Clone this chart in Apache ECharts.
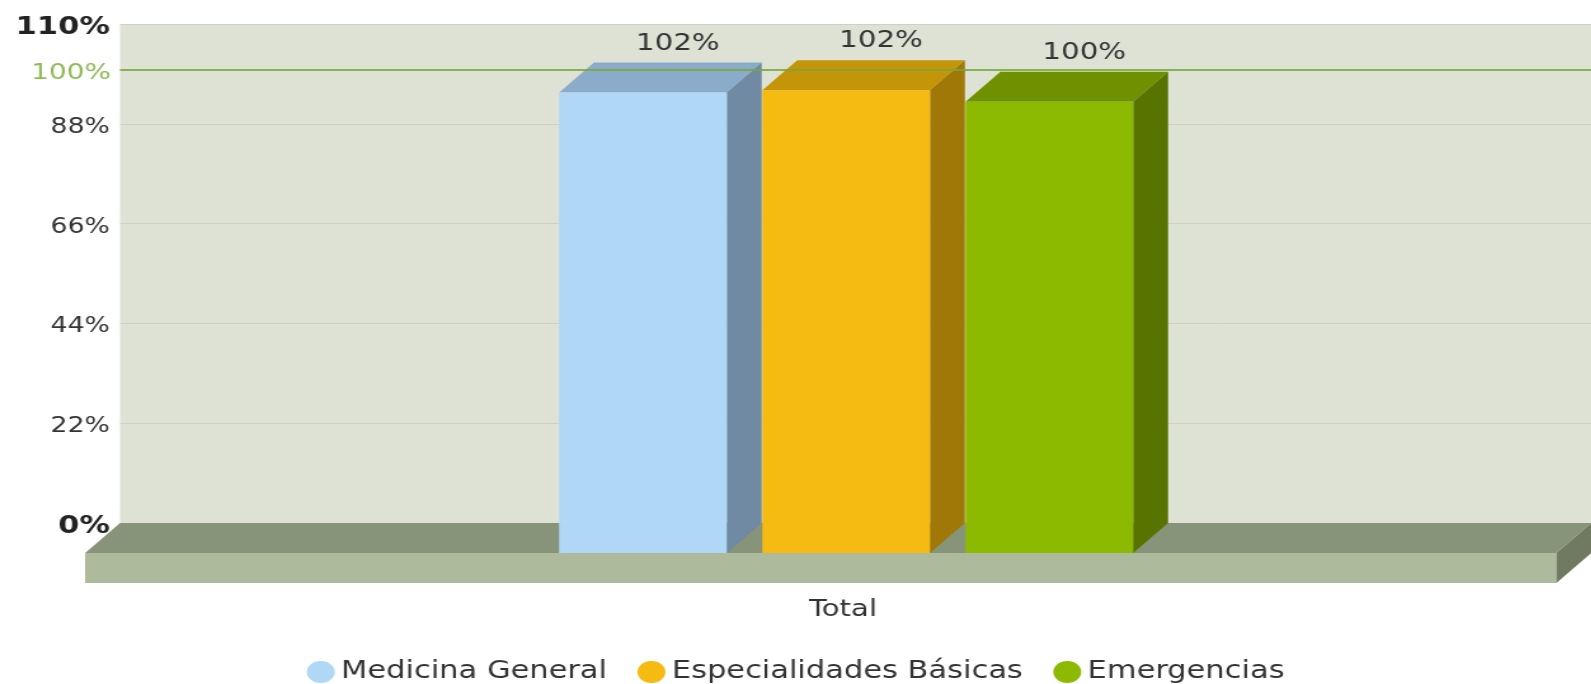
<!DOCTYPE html>
<html>
<head>
<meta charset="utf-8">
<title>Total</title>
<script src="https://cdn.jsdelivr.net/npm/echarts@6/dist/echarts.min.js"></script>
<style>
    html, body { margin: 0; padding: 0; background: #fff; overflow: hidden; }
    /* the reference is stretched horizontally, so the chart is drawn narrow and scaled */
    #main { width: 1253px; height: 684px; transform: scaleX(1.27); transform-origin: 0 0; }
</style>
</head>
<body>
<div id="main"></div>
<script>
// datos del grafico
var categories = ['Total'];
var seriesNames = ['Medicina General', 'Especialidades Básicas', 'Emergencias'];
var medicinaGeneral = [101.5];
var especialidadesBasicas = [102.0];
var emergencias = [99.5];
var trendValue = 100;   // linea de meta
var yMin = 0, yMax = 110, yStep = 22;

var FONT = 'DejaVu Sans';
var DX = 27.5, DY = 30;          // profundidad 3D
var BW = 132, PITCH = 160, SHIFT = 20;
var FLOOR_H = 30;

var shades = [
    { front: '#b0d7f5', top: '#8aabc9', side: '#6f8aa2' },
    { front: '#f5bb11', top: '#c59509', side: '#a07808' },
    { front: '#8cba00', top: '#6f9100', side: '#587400' }
];

function barRenderer(idx) {
    var shade = shades[idx];
    return function (params, api) {
        var cat = api.value(0), v = api.value(1);
        var top = api.coord([cat, v]);
        var base = api.coord([cat, 0]);
        var fc = top[0] - DX + SHIFT + (idx - 1) * PITCH;
        var x0 = fc - BW / 2, x1 = fc + BW / 2;
        var yT = top[1] + DY, yB = base[1] + DY;
        return {
            type: 'group',
            children: [
                { type: 'polygon', shape: { points: [[x0, yT], [x1, yT], [x1 + DX, yT - DY], [x0 + DX, yT - DY]] }, style: { fill: shade.top } },
                { type: 'polygon', shape: { points: [[x1, yT], [x1 + DX, yT - DY], [x1 + DX, yB - DY], [x1, yB]] }, style: { fill: shade.side } },
                { type: 'rect', shape: { x: x0, y: yT, width: BW, height: yB - yT }, style: { fill: shade.front } },
                { type: 'text', x: fc + DX, y: yT - DY - 19, style: { text: Math.round(v) + '%', fill: '#333', fontSize: 23, fontFamily: FONT, align: 'center', verticalAlign: 'middle' } }
            ]
        };
    };
}

// piso 3D debajo de las barras
function floorRenderer(params, api) {
    var cs = params.coordSys;
    var xl = cs.x, xr = cs.x + cs.width, yb = cs.y + cs.height;
    return {
        type: 'group',
        children: [
            { type: 'polygon', shape: { points: [[xl - DX, yb + DY], [xr - DX, yb + DY], [xr, yb], [xl, yb]] }, style: { fill: '#88947a' } },
            { type: 'rect', shape: { x: xl - DX, y: yb + DY, width: cs.width, height: FLOOR_H }, style: { fill: '#adba9b' } },
            { type: 'polygon', shape: { points: [[xr - DX, yb + DY], [xr, yb], [xr, yb + FLOOR_H], [xr - DX, yb + DY + FLOOR_H]] }, style: { fill: '#6f7a61' } }
        ]
    };
}

function toData(arr) {
    return arr.map(function (v, i) { return [i, v]; });
}

var myChart = echarts.init(document.getElementById('main'));
var seriesValues = [medicinaGeneral, especialidadesBasicas, emergencias];

var series = [{
    name: 'piso',
    type: 'custom',
    z: 1,
    data: [[0, 0]],
    renderItem: floorRenderer,
    silent: true,
    markLine: {
        silent: true,
        symbol: 'none',
        data: [{ yAxis: trendValue }],
        lineStyle: { color: '#77a73a', width: 2, type: 'solid', opacity: 0.85 },
        label: { position: 'start', distance: 7, formatter: trendValue + '%', color: '#7dae38', fontSize: 22, fontFamily: FONT, offset: [0, 4] }
    }
}];
seriesValues.forEach(function (vals, i) {
    series.push({
        name: seriesNames[i],
        type: 'custom',
        z: 2,
        itemStyle: { color: shades[i].front },
        data: toData(vals),
        encode: { x: 0, y: 1 },
        renderItem: barRenderer(i)
    });
});

var option = {
    animation: false,
    textStyle: { fontFamily: FONT },
    grid: {
        left: 94.5, right: 0, top: 24, bottom: 161,
        show: true, backgroundColor: '#dde2d5', borderWidth: 0,
        outerBoundsMode: 'none'
    },
    legend: {
        data: seriesNames,
        icon: 'circle',
        top: 655,
        left: 'center',
        itemWidth: 22, itemHeight: 22, itemGap: 24,
        textStyle: { fontSize: 24, color: '#333', fontFamily: FONT }
    },
    xAxis: {
        type: 'category',
        data: categories,
        axisLine: { show: false },
        axisTick: { show: false },
        axisLabel: { margin: 76, fontSize: 23, color: '#333', fontFamily: FONT, padding: [0, 20, 0, 0] }
    },
    yAxis: {
        type: 'value',
        min: yMin, max: yMax, interval: yStep,
        axisLine: { show: false },
        axisTick: { show: false },
        splitLine: { lineStyle: { color: '#ccd1c8', width: 1 } },
        axisLabel: {
            margin: 8, fontSize: 21, color: '#333', fontFamily: FONT,
            padding: [7, 0, 0, 0],
            formatter: function (v) {
                return (v === yMin || v === yMax) ? '{b|' + v + '%}' : v + '%';
            },
            rich: { b: { fontWeight: 'bold', color: '#222', fontSize: 24, fontFamily: FONT } }
        }
    },
    series: series
};
myChart.setOption(option);
</script>
</body>
</html>
